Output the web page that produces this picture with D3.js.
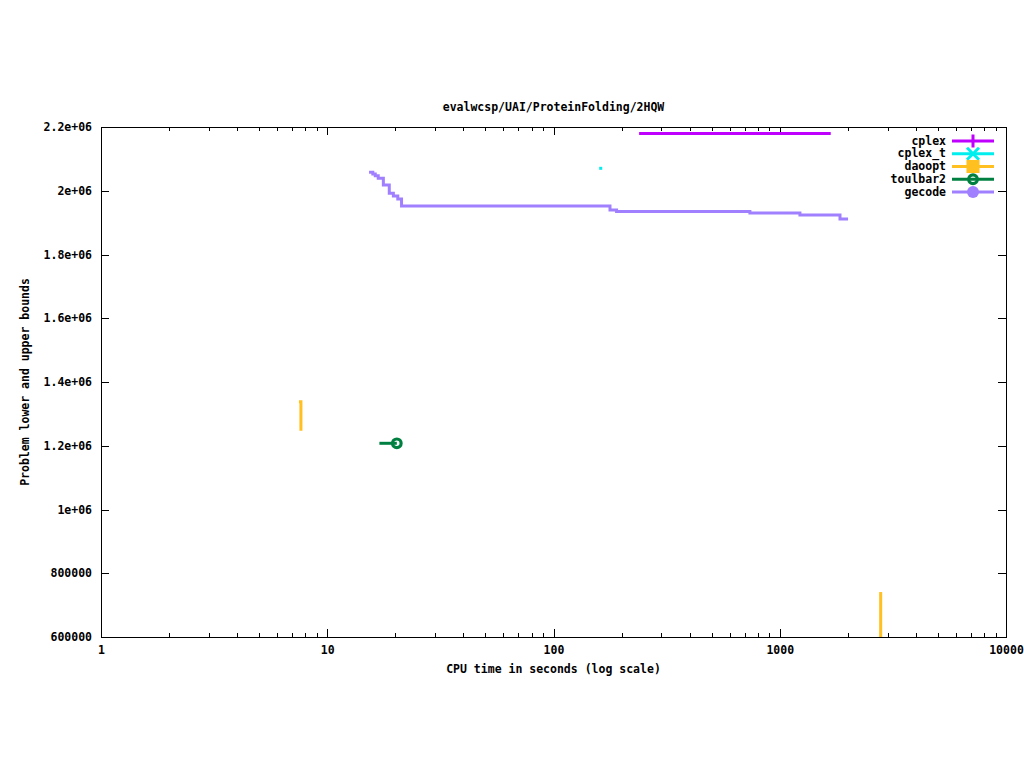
<!DOCTYPE html>
<html>
<head>
<meta charset="utf-8">
<script src="https://cdn.jsdelivr.net/npm/d3@7"></script>
<style>
  body { margin: 0; background: #fff; }
  text { font-family: "DejaVu Sans Mono", "Liberation Mono", monospace; font-weight: bold; font-size: 11.5px; fill: #000; }
</style>
</head>
<body>
<svg id="chart" width="1024" height="768"></svg>
<script>
// ---------- data ----------
const title = "evalwcsp/UAI/ProteinFolding/2HQW";
const xLabel = "CPU time in seconds (log scale)";
const yLabel = "Problem lower and upper bounds";

const xTickValues = [1, 10, 100, 1000, 10000];
const xTickLabels = ["1", "10", "100", "1000", "10000"];
const yTickValues = [600000, 800000, 1000000, 1200000, 1400000, 1600000, 1800000, 2000000, 2200000];
const yTickLabels = ["600000", "800000", "1e+06", "1.2e+06", "1.4e+06", "1.6e+06", "1.8e+06", "2e+06", "2.2e+06"];

const seriesNames = ["cplex", "cplex_t", "daoopt", "toulbar2", "gecode"];
const seriesColors = ["#c000ff", "#00eeee", "#ffc020", "#008040", "#a080ff"];

const cplexTimes = [239, 1680];
const cplexValues = [2180000, 2180000];

const cplexTTimes = [161.7];
const cplexTValues = [2070400];

const daooptTimes1 = [7.5, 7.65];
const daooptValues1 = [1338000, 1247000];
const daooptTimes2 = [2793, 2793];
const daooptValues2 = [741000, 500000];

const toulbarTimes = [17.0, 20.3];
const toulbarValues = [1207700, 1207700];

const gecodeTimes = [15.3, 15.9, 16.3, 16.8, 17.7, 18.8, 19.6, 20.5, 21.3, 177.7, 190, 738, 1228, 1846, 2004];
const gecodeValues = [2058000, 2052500, 2047000, 2039000, 2018000, 1992000, 1983500, 1974000, 1952000, 1939600, 1935000, 1930000, 1924000, 1911000, 1911000];

// ---------- chart ----------
const svg = d3.select("#chart");
const L = 101, R = 1006, T = 127, B = 637;
const x = d3.scaleLog().domain([1, 10000]).range([L, R]);
const y = d3.scaleLinear().domain([600000, 2200000]).range([B, T]);

svg.append("rect").attr("width", 1024).attr("height", 768).attr("fill", "#fff");

const minorX = [];
for (let d = 1; d < 10000; d *= 10) for (let k = 2; k <= 9; k++) minorX.push(d * k);

function styleAxis(g) {
  g.select(".domain").remove();
  g.selectAll(".tick line").attr("stroke", "#000").attr("shape-rendering", "crispEdges");
  g.selectAll("text").attr("fill", "#000");
  g.attr("font-family", null).attr("font-size", null);
}

// bottom
svg.append("g").attr("transform", `translate(0,${B})`)
  .call(d3.axisBottom(x).tickValues(xTickValues).tickFormat((d, i) => xTickLabels[i]).tickSize(-8).tickPadding(9))
  .call(styleAxis);
svg.append("g").attr("transform", `translate(0,${B})`)
  .call(d3.axisBottom(x).tickValues(minorX).tickFormat("").tickSize(-4))
  .call(styleAxis);
// top
svg.append("g").attr("transform", `translate(0,${T})`)
  .call(d3.axisTop(x).tickValues(xTickValues).tickFormat("").tickSize(-8))
  .call(styleAxis);
svg.append("g").attr("transform", `translate(0,${T})`)
  .call(d3.axisTop(x).tickValues(minorX).tickFormat("").tickSize(-4))
  .call(styleAxis);
// left
svg.append("g").attr("transform", `translate(${L},0)`)
  .call(d3.axisLeft(y).tickValues(yTickValues).tickFormat((d, i) => yTickLabels[i]).tickSize(-8).tickPadding(9))
  .call(styleAxis);
// right
svg.append("g").attr("transform", `translate(${R},0)`)
  .call(d3.axisRight(y).tickValues(yTickValues).tickFormat("").tickSize(-8))
  .call(styleAxis);

// border
svg.append("rect").attr("x", L + 0.5).attr("y", T + 0.5).attr("width", R - L).attr("height", B - T)
  .attr("fill", "none").attr("stroke", "#000").attr("stroke-width", 1).attr("shape-rendering", "crispEdges");

// titles
svg.append("text").attr("x", (L + R) / 2).attr("y", 107).attr("text-anchor", "middle").attr("dominant-baseline", "middle").text(title);
svg.append("text").attr("x", (L + R) / 2).attr("y", 669).attr("text-anchor", "middle").attr("dominant-baseline", "middle").text(xLabel);
svg.append("text").attr("transform", `translate(25,${(T + B) / 2}) rotate(-90)`).attr("text-anchor", "middle").attr("dominant-baseline", "middle").text(yLabel);

// clip
svg.append("clipPath").attr("id", "clip").append("rect").attr("x", L).attr("y", T).attr("width", R - L).attr("height", B - T);
const plot = svg.append("g").attr("clip-path", "url(#clip)");

const stepLine = d3.line().x(d => x(d[0])).y(d => y(d[1])).curve(d3.curveStepAfter);
function zip(a, b) { return a.map((v, i) => [v, b[i]]); }
function drawLine(ts, vs, color) {
  plot.append("path").datum(zip(ts, vs)).attr("d", stepLine)
    .attr("fill", "none").attr("stroke", color).attr("stroke-width", 3);
}

drawLine(cplexTimes, cplexValues, seriesColors[0]);
plot.selectAll(".ct").data(zip(cplexTTimes, cplexTValues)).enter().append("rect")
  .attr("x", d => x(d[0]) - 1.5).attr("y", d => y(d[1]) - 1.5).attr("width", 3).attr("height", 3)
  .attr("fill", seriesColors[1]);
drawLine(daooptTimes1, daooptValues1, seriesColors[2]);
drawLine(daooptTimes2, daooptValues2, seriesColors[2]);
drawLine(toulbarTimes, toulbarValues, seriesColors[3]);
plot.append("circle").attr("cx", x(toulbarTimes[toulbarTimes.length - 1])).attr("cy", y(toulbarValues[toulbarValues.length - 1]))
  .attr("r", 4.3).attr("fill", "none").attr("stroke", seriesColors[3]).attr("stroke-width", 3.2);

drawLine(gecodeTimes, gecodeValues, seriesColors[4]);

// legend
const legX1 = 952, legX2 = 994, legMX = 973, legTextX = 946;
seriesNames.forEach((name, i) => {
  const cy = 141 + i * 12.75;
  const c = seriesColors[i];
  const g = svg.append("g");
  g.append("text").attr("x", legTextX).attr("y", cy).attr("text-anchor", "end").attr("dominant-baseline", "middle").text(name);
  g.append("line").attr("x1", legX1).attr("x2", legX2).attr("y1", cy).attr("y2", cy).attr("stroke", c).attr("stroke-width", 3);
  if (i === 0) {
    g.append("line").attr("x1", legMX).attr("x2", legMX).attr("y1", cy - 6.5).attr("y2", cy + 6.5).attr("stroke", c).attr("stroke-width", 3);
  } else if (i === 1) {
    g.append("path").attr("d", `M${legMX - 6},${cy - 6}L${legMX + 6},${cy + 6}M${legMX - 6},${cy + 6}L${legMX + 6},${cy - 6}`)
      .attr("stroke", c).attr("stroke-width", 3).attr("fill", "none");
  } else if (i === 2) {
    g.append("rect").attr("x", legMX - 6.5).attr("y", cy - 6.5).attr("width", 13).attr("height", 13).attr("fill", c);
  } else if (i === 3) {
    g.append("circle").attr("cx", legMX).attr("cy", cy).attr("r", 4.3).attr("fill", "none").attr("stroke", c).attr("stroke-width", 3.2);
  } else {
    g.append("circle").attr("cx", legMX).attr("cy", cy).attr("r", 6).attr("fill", c);
  }
});
</script>
</body>
</html>
